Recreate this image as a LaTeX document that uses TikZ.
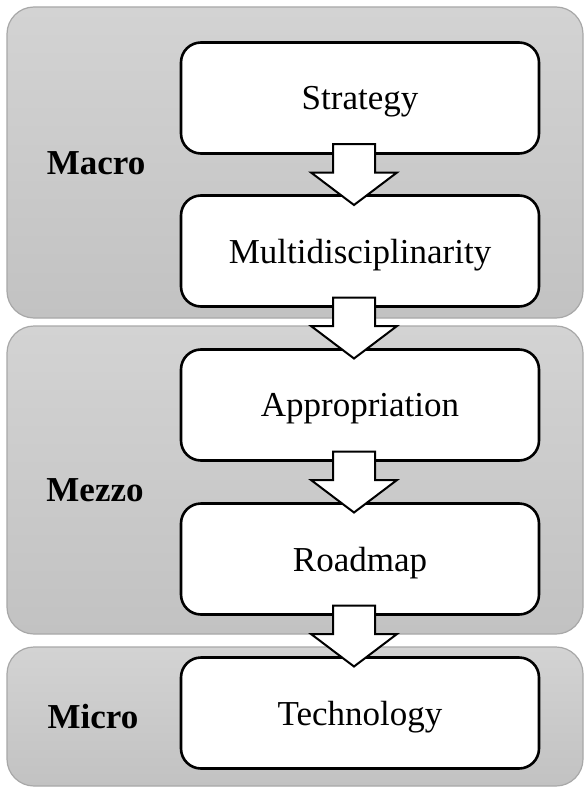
\documentclass[tikz,border=0pt]{standalone}
\usepackage{fontspec}
\setmainfont{Liberation Serif}
\usepackage{xcolor}
\usepackage{tikz}
\usetikzlibrary{calc,positioning}
\definecolor{layertop}{HTML}{D3D3D3}
\definecolor{layerbot}{HTML}{C2C2C2}
\definecolor{layerline}{HTML}{A8A8A8}

\begin{document}
\begin{tikzpicture}[x=1pt,y=-1pt,
  layer/.style={draw=layerline, line width=1.2pt, rounded corners=27pt,
    top color=layertop, bottom color=layerbot},
  stage/.style={draw, fill=white, line width=2.6pt, rounded corners=20pt,
    minimum width=358pt, minimum height=111pt, text depth=0pt,
    font=\fontsize{35}{42}\selectfont},
  levelname/.style={font=\fontsize{35}{42}\selectfont\bfseries},
  blockarrow/.style={draw, fill=white, line width=2pt, line join=miter}]
\useasboundingbox (0,0) rectangle (584,789);

% the three levels
\path[layer] (7,7) rectangle (583,318);
\path[layer] (7,326) rectangle (583,634);
\path[layer] (7,647) rectangle (583,786);

\node [levelname] (macro) at (96,163) {Macro};
\node [levelname] (mezzo) at (95,490) {Mezzo};
\node [levelname] (micro) at (93,717) {Micro};

% stages
\node [stage] (strat) at (360,98) {Strategy};
\node [stage] (multi) at (360,251) {Multidisciplinarity};
\node [stage] (appr) at (360,405) {Appropriation};
\node [stage] (road) at (360,559) {Roadmap};
\node [stage] (tech) at (360,713) {Technology};

% block arrows between the stages
\foreach \a/\b in {strat/multi, multi/appr, appr/road, road/tech}{
  \coordinate (m) at ($(\a.south)!.5!(\b.north)$);
  \draw[blockarrow] ($(m)+(-27,-30.5)$) -- ($(m)+(15,-30.5)$)
    -- ($(m)+(15,-2)$) -- ($(m)+(37,-2)$) -- ($(m)+(-6,30.5)$)
    -- ($(m)+(-49,-2)$) -- ($(m)+(-27,-2)$) -- cycle;
}
\end{tikzpicture}
\end{document}
